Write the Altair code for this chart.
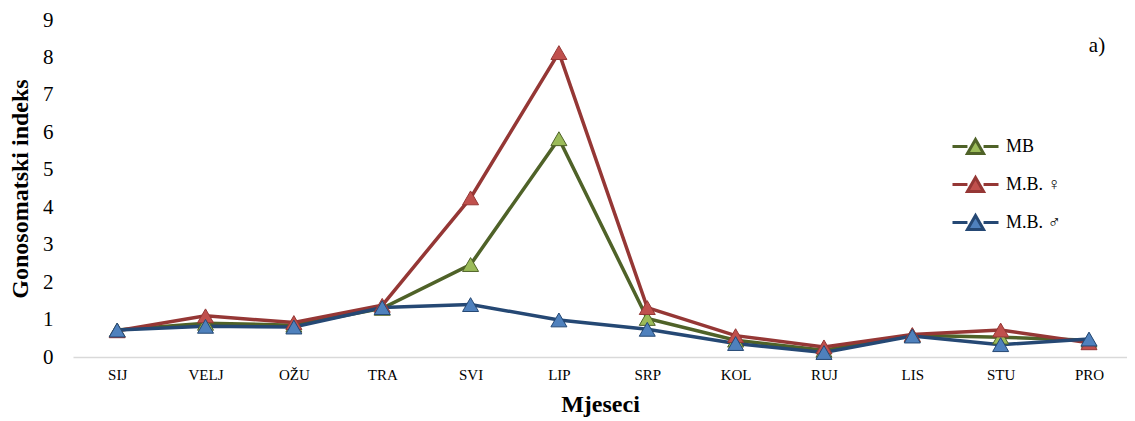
import altair as alt
import pandas as pd

MONTHS = ["SIJ", "VELJ", "OŽU", "TRA", "SVI", "LIP", "SRP", "KOL", "RUJ", "LIS", "STU", "PRO"]
SERIES = ["MB", "M.B. ♀", "M.B. ♂"]
MB = [0.72, 0.90, 0.85, 1.30, 2.47, 5.83, 1.03, 0.45, 0.18, 0.58, 0.53, 0.45]
MB_F = [0.70, 1.10, 0.92, 1.38, 4.25, 8.13, 1.32, 0.57, 0.27, 0.60, 0.72, 0.38]
MB_M = [0.72, 0.82, 0.80, 1.32, 1.40, 0.99, 0.74, 0.36, 0.12, 0.56, 0.33, 0.48]
Y_TICKS = list(range(10))
LINE_COLORS = ["#4F6228", "#953735", "#254874"]
FILL_COLORS = ["#9BBB59", "#C0504D", "#4F81BD"]
PANEL_LABEL = "a)"

rows = []
for name, vals in zip(SERIES, [MB, MB_F, MB_M]):
    for i, (m, v) in enumerate(zip(MONTHS, vals)):
        rows.append({"month": m, "idx": i, "series": name, "value": v})
df = pd.DataFrame(rows)

FONT = "Liberation Serif"
label_expr = "[" + ",".join("'" + m + "'" for m in MONTHS) + "][datum.value]"

x_enc = alt.X(
    "idx:Q",
    scale=alt.Scale(domain=[-0.5, 11.43], nice=False, zero=False),
    axis=alt.Axis(
        values=list(range(len(MONTHS))),
        labelExpr=label_expr,
        title="Mjeseci",
        grid=False,
        ticks=False,
        domainColor="#D9D9D9",
        domainWidth=1.5,
        labelFont=FONT,
        labelFontSize=15,
        labelColor="black",
        labelPadding=10,
        labelAngle=0,
        titleFont=FONT,
        titleFontSize=24,
        titleFontWeight="bold",
        titleColor="black",
        titlePadding=10,
    ),
)
y_enc = alt.Y(
    "value:Q",
    scale=alt.Scale(domain=[0, 9], nice=False),
    axis=alt.Axis(
        values=Y_TICKS,
        title="Gonosomatski indeks",
        grid=False,
        ticks=False,
        domain=False,
        labelFont=FONT,
        labelFontSize=21,
        labelColor="black",
        labelPadding=20,
        titleFont=FONT,
        titleFontSize=24,
        titleFontWeight="bold",
        titleColor="black",
        titlePadding=10,
    ),
)

base = alt.Chart(df).encode(x=x_enc, y=y_enc)

lines = base.mark_line(strokeWidth=3.5).encode(
    stroke=alt.Stroke("series:N", scale=alt.Scale(domain=SERIES, range=LINE_COLORS), title=None),
)
points = base.mark_point(shape="triangle-up", filled=True, size=256, strokeWidth=1, opacity=1).encode(
    fill=alt.Fill("series:N", scale=alt.Scale(domain=SERIES, range=FILL_COLORS), title=None),
    stroke=alt.Stroke("series:N", title=None),
)

label = alt.Chart(pd.DataFrame({"t": [PANEL_LABEL]})).mark_text(
    font=FONT, fontSize=21, color="black", align="center", baseline="middle"
).encode(text="t:N", x=alt.value(1024), y=alt.value(26))

chart = (
    alt.layer(lines, points, label)
    .properties(
        width=1054,
        height=337,
        autosize=alt.AutoSizeParams(type="none"),
        padding={"left": 65, "top": 12, "right": 0, "bottom": 64},
    )
    .configure_view(stroke=None)
    .configure_legend(
        orient="none",
        legendX=878,
        legendY=102,
        symbolType="M-1,0H-0.35M0.35,0H1M0,-0.3L0.35,0.3L-0.35,0.3Z",
        symbolSize=2116,
        symbolStrokeWidth=3,
        labelFont=FONT,
        labelFontSize=18,
        labelColor="black",
        labelOffset=6,
        rowPadding=-1,
        padding=0,
    )
)

chart.save("out.html", embed_options={"renderer": "svg", "actions": False})
